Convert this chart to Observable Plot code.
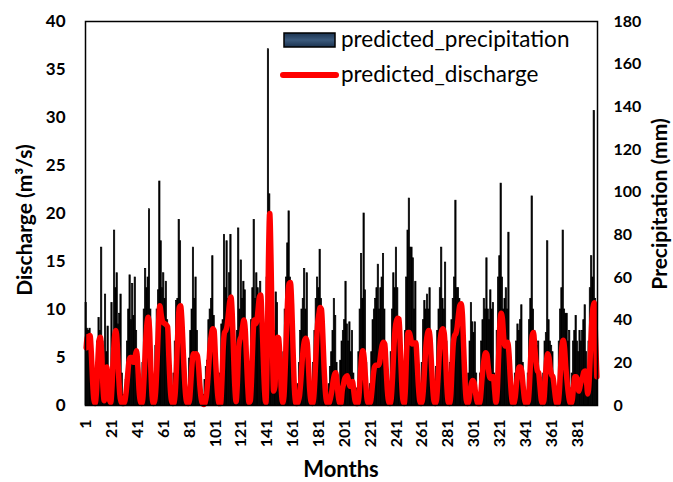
<!DOCTYPE html>
<html>
<head>
<meta charset="utf-8">
<script src="https://cdn.jsdelivr.net/npm/d3@7"></script>
<script src="https://cdn.jsdelivr.net/npm/@observablehq/plot@0.6"></script>
<style>
  html, body { margin: 0; padding: 0; background: #fff; }
  #chart { width: 673px; height: 482px; }
</style>
</head>
<body>
<div id="chart"></div>
<script>
// predicted precipitation (mm), months 1..396
const precipitation = [
  48,36,35,36,30,12,4,3,15,30,41,35,
  74,30,20,52,25,37,10,8,48,30,82,55,
  62,38,43,52,15,5,4,12,30,45,61,40,
  57,42,60,35,20,8,4,5,20,45,64,55,
  60,92,45,15,6,10,28,45,54,105,77,55,
  62,50,58,40,15,5,3,6,15,30,49,50,
  87,77,45,25,10,4,3,8,22,35,45,74,
  50,60,35,20,8,3,2,5,12,18,21,40,
  45,50,70,42,20,8,3,5,15,38,40,80,
  55,77,50,62,80,40,15,5,10,35,83,45,
  68,50,58,54,25,8,4,15,40,55,87,50,
  62,55,45,58,30,10,5,20,60,167,99,50,
  25,10,35,53,48,30,12,4,6,25,45,60,
  76,91,60,45,20,6,3,4,10,20,35,45,
  50,64,45,62,25,8,3,5,20,35,50,60,
  55,73,50,35,15,5,3,4,10,18,25,35,
  50,42,20,8,4,21,30,35,40,58,38,30,
  39,25,35,15,5,3,8,25,45,71,50,90,
  54,20,6,4,10,25,40,45,50,55,66,45,
  55,60,71,45,20,6,3,8,25,45,62,55,
  74,55,40,20,8,4,10,35,60,82,97,74,
  74,69,45,58,30,10,4,6,20,40,49,45,
  52,45,55,25,8,3,5,18,35,45,55,74,
  50,45,67,30,8,4,20,40,50,60,96,55,
  55,50,45,35,15,5,3,5,15,30,48,39,
  34,39,15,5,4,15,30,40,50,45,69,45,
  40,54,45,48,15,5,35,60,70,104,60,45,
  50,55,45,81,25,8,3,6,15,30,38,35,
  40,47,20,6,3,5,15,40,50,98,45,35,
  30,28,30,15,5,4,15,30,34,77,40,30,
  28,25,12,5,3,8,30,45,55,82,45,43,
  43,30,35,8,15,30,35,42,30,25,35,30,
  35,40,47,25,15,30,55,70,60,138,50,12
];
// predicted discharge (m3/s), months 1..396
const discharge = [
  6.0,7.2,7.0,7.3,5.5,2.5,0.6,0.2,1.5,4.5,6.8,7.1,
  5.5,2.0,0.5,2.5,4.0,2.5,0.6,0.3,2.0,5.0,7.2,7.8,
  6.5,3.5,1.2,0.4,0.2,0.2,0.5,1.5,3.0,4.5,5.0,5.0,
  4.6,4.5,5.2,5.7,4.0,1.5,0.4,0.2,1.0,3.5,6.5,8.5,
  9.2,8.0,4.0,1.0,0.2,0.5,2.0,5.0,8.5,10.4,9.5,8.8,
  8.6,8.5,8.4,8.2,5.0,2.0,0.5,0.2,0.3,1.5,4.5,8.0,
  10.2,10.4,9.0,6.0,3.0,1.0,0.3,0.2,0.6,2.5,4.5,5.4,
  5.3,5.4,5.2,4.0,2.0,0.7,0.2,0.1,0.3,1.0,2.5,4.5,
  6.5,7.5,8.0,7.8,5.0,2.5,0.8,0.2,0.2,2.5,6.0,7.6,
  7.8,8.3,9.5,10.8,11.3,9.5,5.5,2.0,0.4,2.5,6.0,6.9,
  7.2,8.2,8.9,8.0,5.0,2.0,0.3,0.5,3.0,7.0,8.9,8.5,
  8.8,10.0,11.3,11.5,9.0,5.0,1.5,0.3,5.0,15.0,20.0,15.0,
  7.0,1.5,2.0,5.5,7.1,7.0,4.5,1.5,0.3,1.0,4.0,8.0,
  11.5,12.7,12.8,10.5,6.0,2.0,0.3,0.2,0.4,1.0,2.5,4.5,
  6.0,6.8,7.0,6.5,4.0,1.5,0.4,0.2,0.8,3.0,6.0,8.5,
  9.5,10.2,10.0,7.5,4.0,1.5,0.4,0.2,0.3,0.8,1.5,2.5,
  3.2,3.4,2.5,1.0,0.3,0.2,1.5,2.2,2.8,3.0,3.1,2.5,
  2.0,2.3,2.5,1.5,0.5,0.2,0.2,1.0,3.0,5.0,5.7,5.0,
  3.0,1.0,0.3,0.2,0.4,1.5,3.0,4.0,4.2,4.2,4.2,4.5,
  5.5,6.3,6.6,6.4,4.0,1.5,0.4,0.2,0.8,3.0,6.0,8.0,
  8.8,9.1,9.0,6.0,2.5,0.6,0.2,2.0,6.0,7.6,7.6,7.0,
  6.4,6.5,6.5,6.5,4.5,2.0,0.5,0.2,0.5,2.0,4.5,6.5,
  7.5,7.8,7.0,4.5,2.0,0.5,0.2,0.6,2.5,5.0,7.0,7.8,
  8.0,7.5,5.0,2.0,0.4,0.2,1.0,4.0,6.5,7.3,7.5,8.2,
  9.5,10.4,10.6,9.5,6.0,2.5,0.6,0.2,0.5,1.5,2.3,2.6,
  2.4,1.5,0.6,0.2,0.2,0.8,2.5,4.0,5.0,5.5,5.3,4.0,
  3.0,2.8,3.0,3.0,1.5,0.3,1.5,5.0,8.5,9.6,9.0,7.0,
  6.2,6.5,6.6,5.5,3.0,1.0,0.2,0.3,1.0,2.5,3.5,4.0,
  4.0,3.5,2.0,0.7,0.2,0.2,0.5,2.5,5.5,7.3,7.6,6.0,
  4.5,3.6,3.4,2.0,0.6,0.2,0.5,2.5,4.5,5.4,5.0,3.8,
  3.2,3.0,2.0,0.8,0.2,0.2,1.5,4.0,6.2,6.8,6.0,4.0,
  2.5,1.2,0.4,0.2,0.6,2.0,3.0,3.0,2.5,1.5,2.0,2.6,
  3.0,3.5,3.6,2.5,1.2,2.5,5.5,8.5,10.2,10.7,7.0,3.0
];
const xTickLabels = [1,21,41,61,81,101,121,141,161,181,201,221,241,261,281,301,321,341,361,381];
const leftTicks = [0,5,10,15,20,25,30,35,40];
const rightTicks = [0,20,40,60,80,100,120,140,160,180];
const seriesNames = ["predicted_precipitation", "predicted_discharge"];

const N = precipitation.length;
const rows = precipitation.map((p, i) => ({month: i + 1, p, q: discharge[i]}));
const k = 40 / 180; // precipitation axis (0–180) drawn on the discharge scale (0–40)

const FONT = "Lato, 'Open Sans', sans-serif";

const chart = Plot.plot({
  width: 673,
  height: 482,
  marginLeft: 85,
  marginRight: 76,
  marginTop: 21,
  marginBottom: 77,
  style: {fontFamily: FONT, fontSize: "16px", fontWeight: "bold", color: "#000", background: "#fff"},
  x: {type: "linear", domain: [0.5, N + 0.5], axis: null},
  y: {domain: [0, 40], axis: null},
  marks: [
    Plot.rectY(rows, {x1: d => d.month - 0.5, x2: d => d.month + 0.5, y: d => d.p * k,
      fill: "#000", stroke: "#000", strokeWidth: 0.7, inset: 0}),
    Plot.line(rows, {x: "month", y: "q", stroke: "#ff0000", strokeWidth: 5.5, curve: "monotone-x"}),
    Plot.frame({stroke: "#000", strokeWidth: 1.5}),
    Plot.axisY({anchor: "left", ticks: leftTicks, tickSize: 0, tickPadding: 20, label: null, fontSize: 17}),
    Plot.axisY({anchor: "right", ticks: rightTicks.map(v => v * k), tickFormat: v => String(Math.round(v / k)), tickSize: 0, tickPadding: 16, label: null, fontSize: 16}),
    Plot.axisX({ticks: xTickLabels, tickRotate: -90, tickSize: 0, tickPadding: 14, label: null, fontSize: 16})
  ]
});

const svg = d3.select(chart);
// axis titles
svg.append("text").attr("transform", "translate(27,220) rotate(-90)")
  .attr("text-anchor", "middle").attr("dominant-baseline", "middle")
  .style("font", `bold 21px ${FONT}`).text("Discharge (m³/s)");
svg.append("text").attr("transform", "translate(662,204) rotate(-90)")
  .attr("text-anchor", "middle").attr("dominant-baseline", "middle")
  .style("font", `bold 21px ${FONT}`).text("Precipitation (mm)");
svg.append("text").attr("x", 341).attr("y", 471)
  .attr("text-anchor", "middle").attr("dominant-baseline", "middle")
  .style("font", `bold 22px ${FONT}`).text("Months");

// legend
const defs = svg.append("defs");
const grad = defs.append("linearGradient").attr("id", "lg").attr("x1", 0).attr("x2", 0).attr("y1", 0).attr("y2", 1);
grad.append("stop").attr("offset", "0%").attr("stop-color", "#1b3350");
grad.append("stop").attr("offset", "50%").attr("stop-color", "#3c5a7c");
grad.append("stop").attr("offset", "100%").attr("stop-color", "#1b3350");
const lg = svg.append("g").style("font", `normal 22.5px ${FONT}`).attr("text-anchor", "start");
lg.append("rect").attr("x", 284).attr("y", 33).attr("width", 51).attr("height", 14)
  .attr("fill", "url(#lg)").attr("stroke", "#000").attr("stroke-width", 1.5);
lg.append("text").attr("x", 341).attr("y", 47).attr("text-anchor", "start").text(seriesNames[0]);
lg.append("line").attr("x1", 283).attr("x2", 336).attr("y1", 75).attr("y2", 75)
  .attr("stroke", "#ff0000").attr("stroke-width", 6).attr("stroke-linecap", "round");
lg.append("text").attr("x", 341).attr("y", 82).attr("text-anchor", "start").text(seriesNames[1]);

document.getElementById("chart").appendChild(chart);
</script>
</body>
</html>
